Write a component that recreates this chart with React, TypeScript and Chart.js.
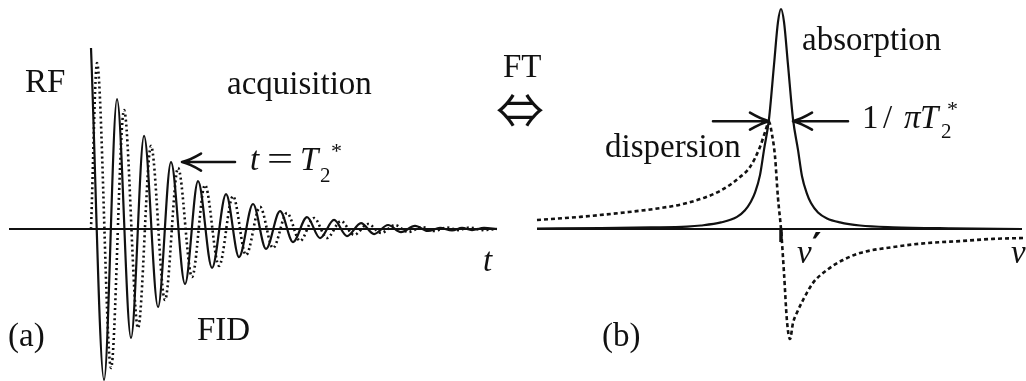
import { useEffect, useRef } from "react";
import { Chart, registerables } from "chart.js";

Chart.register(...registerables);

// Free induction decay, time in units of T2*, amplitude relative to the first maximum
const fidRealT = [0, 0.163, 0.325, 0.5, 0.663, 0.838, 1.0, 1.175, 1.338, 1.513, 1.688, 1.85, 2.025, 2.188, 2.363, 2.525, 2.7, 2.863, 3.038, 3.2, 3.375, 3.538, 3.713, 3.875, 4.05, 4.213, 4.363, 4.513, 4.638, 4.763, 4.913, 5.075];
const fidRealA = [1.0, -0.834, 0.718, -0.602, 0.514, -0.431, 0.37, -0.304, 0.265, -0.215, 0.193, -0.155, 0.138, -0.11, 0.099, -0.072, 0.066, -0.05, 0.05, -0.039, 0.033, -0.028, 0.022, -0.017, 0.017, -0.011, 0.006, -0.008, 0.006, -0.006, 0.006, 0];
const fidImagT = [0, 0.075, 0.25, 0.413, 0.588, 0.75, 0.925, 1.088, 1.263, 1.425, 1.6, 1.775, 1.938, 2.113, 2.275, 2.45, 2.613, 2.788, 2.95, 3.125, 3.288, 3.463, 3.625, 3.8, 3.963, 4.138, 4.288, 4.45, 4.588, 4.738, 4.888, 5.075];
const fidImagA = [0, 0.917, -0.768, 0.657, -0.547, 0.459, -0.392, 0.337, -0.265, 0.243, -0.204, 0.182, -0.144, 0.122, -0.105, 0.088, -0.066, 0.061, -0.05, 0.044, -0.033, 0.028, -0.022, 0.022, -0.017, 0.011, -0.011, 0.008, -0.006, 0.008, -0.006, 0];
const timeAxisSpan = [-1.025, 5.075];
const T2 = 1;
const amplitudeAtT2 = 0.37;

// Spectrum, frequency offset from ν' (arbitrary units), height relative to the absorption peak
const absorbNu = [-24.4, -18, -13, -9.4, -8, -6, -4.4, -3.6, -3.0, -2.6, -2.1, -1.7, -1.2, -0.7, -0.3, 0, 0.3, 0.7, 1.2, 1.7, 2.1, 2.6, 3.0, 3.7, 4.6, 5.9, 7.9, 11.2, 17, 24.1];
const absorbA = [0.002, 0.004, 0.007, 0.011, 0.016, 0.03, 0.055, 0.085, 0.125, 0.165, 0.245, 0.36, 0.5, 0.746, 0.941, 1.0, 0.941, 0.746, 0.5, 0.36, 0.24, 0.16, 0.118, 0.075, 0.048, 0.03, 0.016, 0.008, 0.003, 0];
const dispNu = [-24.4, -20.1, -16.1, -12.1, -9.4, -6.1, -4.1, -3.1, -2.1, -1.6, -1.2, -0.9, -0.6, -0.3, 0, 0.3, 0.6, 0.9, 1.2, 1.6, 2.2, 3.2, 4.6, 6.2, 7.9, 11.2, 14.6, 17.9, 21.2, 24.2];
const dispA = [0.041, 0.055, 0.073, 0.095, 0.118, 0.173, 0.236, 0.282, 0.373, 0.44, 0.486, 0.43, 0.33, 0.14, 0, -0.2, -0.42, -0.5, -0.427, -0.38, -0.323, -0.245, -0.186, -0.141, -0.109, -0.082, -0.064, -0.055, -0.045, -0.041];
const freqAxisSpan = [-24.4, 24.1];
const halfWidth = 1.2;
const halfHeight = 0.49;

const INK = "#111";
const SERIF = "'Liberation Serif', 'Times New Roman', serif";

const zip = (xs: number[], ys: number[]) => xs.map((x, i) => ({ x, y: ys[i] }));

const annotate = {
  id: "annotate",
  afterDatasetsDraw(chart: any) {
    const { ctx } = chart;
    const xT = chart.scales.xT;
    const yA = chart.scales.yA;
    const xF = chart.scales.xF;
    const yF = chart.scales.yF;

    ctx.save();
    ctx.fillStyle = INK;
    ctx.strokeStyle = INK;
    ctx.textBaseline = "alphabetic";
    ctx.textAlign = "left";

    const text = (s: string, x: number, y: number, size = 33, style = "", family = SERIF, stretch = 1) => {
      ctx.font = `${style} ${size}px ${family}`;
      ctx.save();
      ctx.translate(x, y);
      ctx.scale(stretch, 1);
      ctx.fillText(s, 0, 0);
      ctx.restore();
    };

    const arrow = (fromX: number, y: number, tipX: number) => {
      const dir = Math.sign(tipX - fromX);
      ctx.lineWidth = 2.6;
      ctx.lineCap = "round";
      ctx.lineJoin = "round";
      ctx.beginPath();
      ctx.moveTo(fromX, y);
      ctx.lineTo(tipX, y);
      ctx.moveTo(tipX - dir * 19, y - 8.5);
      ctx.quadraticCurveTo(tipX - dir * 8, y - 2, tipX, y);
      ctx.quadraticCurveTo(tipX - dir * 8, y + 2, tipX - dir * 19, y + 8.5);
      ctx.stroke();
    };

    // panel (a)
    text("RF", 25, 92);
    text("acquisition", 227, 94);
    text("FID", 197, 340);
    text("(a)", 8, 346);
    text("t", 483, 271, 33, "italic");

    const tipT = xT.getPixelForValue(T2) + 11;
    const yT = yA.getPixelForValue(amplitudeAtT2);
    arrow(tipT + 53, yT, tipT);
    text("t", 250, 170, 33, "italic");
    text("=", 267, 170, 33, "", SERIF, 1.4);
    text("T", 300, 170, 33, "italic");
    text("2", 320, 182, 21);
    text("*", 331, 158, 22);

    // Fourier transform sign
    text("FT", 503, 77);
    ctx.font = "48px 'Noto Sans CJK JP', 'DejaVu Sans', sans-serif";
    ctx.textAlign = "center";
    ctx.textBaseline = "middle";
    ctx.fillText("⇔", 520, 110);
    ctx.textAlign = "left";
    ctx.textBaseline = "alphabetic";

    // panel (b)
    text("absorption", 802, 50);
    text("dispersion", 605, 157);
    text("(b)", 602, 346);

    const yHalf = yF.getPixelForValue(halfHeight);
    const leftTip = xF.getPixelForValue(-halfWidth);
    const rightTip = xF.getPixelForValue(halfWidth);
    arrow(leftTip - 56, yHalf, leftTip);
    arrow(rightTip + 55, yHalf, rightTip);
    text("1", 862, 128);
    text("/", 883, 128);
    text("π", 904, 128, 33, "italic");
    text("T", 920, 128, 33, "italic");
    text("2", 941, 138, 21);
    text("*", 947, 116, 22);

    // tick at the resonance ν'
    const x0 = xF.getPixelForValue(0);
    const y0 = yF.getPixelForValue(0);
    ctx.lineWidth = 3.5;
    ctx.lineCap = "butt";
    ctx.beginPath();
    ctx.moveTo(x0, y0);
    ctx.lineTo(x0, y0 + 13);
    ctx.stroke();

    text("ν", 797, 263, 33, "italic");
    text("′", 812, 258, 36, "bold", "'DejaVu Sans', sans-serif");
    text("ν", 1011, 263, 33, "italic");

    ctx.restore();
  },
};

export default function App() {
  const canvasRef = useRef<HTMLCanvasElement | null>(null);

  useEffect(() => {
    const canvas = canvasRef.current;
    if (!canvas) return;
    const solid = { borderColor: INK, borderWidth: 2.2, pointRadius: 0, fill: false, cubicInterpolationMode: "monotone" as const };
    const chart = new Chart(canvas, {
      type: "line",
      data: {
        datasets: [
          { ...solid, label: "t axis", data: zip(timeAxisSpan, [0, 0]), xAxisID: "xT", yAxisID: "yA", borderWidth: 2 },
          { ...solid, label: "FID real", data: zip(fidRealT, fidRealA), xAxisID: "xT", yAxisID: "yA" },
          { ...solid, label: "FID imaginary", data: zip(fidImagT, fidImagA), xAxisID: "xT", yAxisID: "yA", borderDash: [2, 3], borderWidth: 2.6 },
          { ...solid, label: "ν axis", data: zip(freqAxisSpan, [0, 0]), xAxisID: "xF", yAxisID: "yF", borderWidth: 2 },
          { ...solid, label: "absorption", data: zip(absorbNu, absorbA), xAxisID: "xF", yAxisID: "yF" },
          { ...solid, label: "dispersion", data: zip(dispNu, dispA), xAxisID: "xF", yAxisID: "yF", borderDash: [4, 3], borderWidth: 2.6 },
        ],
      },
      options: {
        animation: false,
        responsive: false,
        devicePixelRatio: 1,
        events: [],
        layout: { padding: 0, autoPadding: false },
        plugins: { legend: { display: false }, tooltip: { enabled: false } },
        scales: {
          xT: { type: "linear", display: false, min: -1.1375, max: 11.6875 },
          yA: { type: "linear", display: false, min: -0.83978, max: 1.26519 },
          xF: { type: "linear", display: false, min: -78.1, max: 24.5 },
          yF: { type: "linear", display: false, min: -0.690909, max: 1.040909 },
        },
      },
      plugins: [annotate],
    });
    return () => chart.destroy();
  }, []);

  return (
    <div style={{ position: "fixed", left: 0, top: 0, width: 1026, height: 381, background: "#fff" }}>
      <canvas ref={canvasRef} width={1026} height={381} style={{ display: "block", width: 1026, height: 381 }} />
    </div>
  );
}
